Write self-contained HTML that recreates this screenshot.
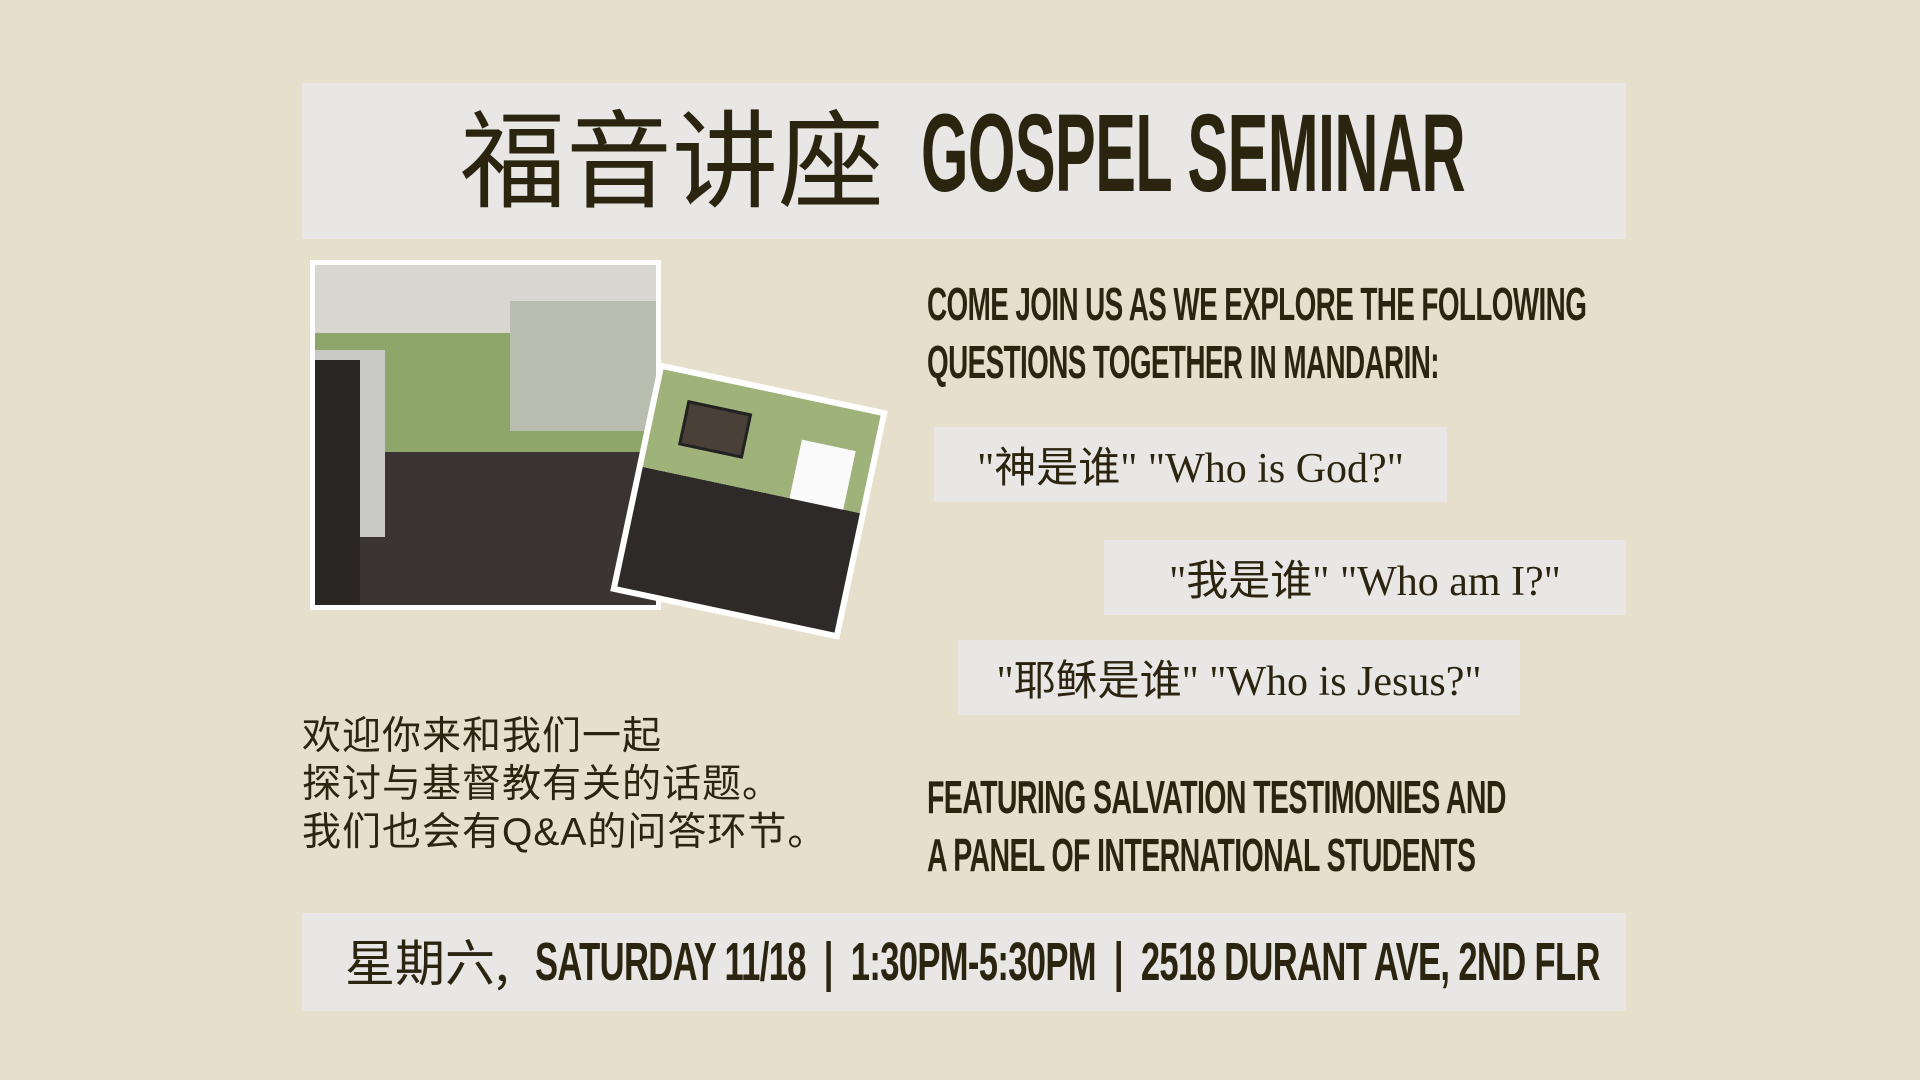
<!DOCTYPE html>
<html><head><meta charset="utf-8"><style>
body{margin:0;width:1920px;height:1080px;background:#e6dfcc;position:relative;overflow:hidden;font-family:"Liberation Sans","Noto Sans CJK SC",sans-serif;color:#2b2510}
.bar{position:absolute;background:#e8e7e5}
.cond{position:absolute;font-weight:bold;transform-origin:0 0;white-space:nowrap;letter-spacing:-1px}
.q{position:absolute;background:#e8e7e5;font-family:"Liberation Serif","Noto Sans CJK SC",serif;font-size:42px;display:flex;align-items:center;justify-content:center;color:#2b2510}
.cn{position:absolute;left:302px;font-size:39px;white-space:nowrap;letter-spacing:1px}
</style></head><body>
<div class="bar" style="left:302px;top:83px;width:1324px;height:156px"></div>
<div style="position:absolute;left:460px;top:88px;font-size:106px;font-family:'Noto Sans CJK SC',sans-serif;line-height:130px">福音讲座</div>
<div class="cond" style="left:921px;top:94px;font-size:110px;line-height:120px;transform:scaleX(0.555)">GOSPEL SEMINAR</div>

<div style="position:absolute;left:310px;top:260px;width:351px;height:350px;background:#fff">
<div style="position:absolute;left:5px;top:5px;width:341px;height:340px;background:linear-gradient(180deg,#d8d6d0 0 20%,#8fa66a 20% 55%,#3a3532 55% 100%)">
<div style="position:absolute;left:0;top:25%;width:70px;height:55%;background:#c9c9c8"></div>
<div style="position:absolute;left:195px;top:36px;width:146px;height:130px;background:#b8bdb0"></div>
<div style="position:absolute;left:0;top:95px;width:45px;height:245px;background:#2a2624"></div>
</div></div>
<div style="position:absolute;left:632px;top:384px;width:234px;height:234px;background:#fff;transform:rotate(12deg)">
<div style="position:absolute;left:6px;top:6px;width:222px;height:222px;background:linear-gradient(180deg,#9fb27a 0 45%,#2e2a2a 45% 100%)">
<div style="position:absolute;left:150px;top:40px;width:55px;height:60px;background:#fafafa"></div>
<div style="position:absolute;left:30px;top:25px;width:60px;height:40px;background:#4a4038;border:3px solid #222"></div>
</div></div>

<div class="cond" style="left:927px;top:275px;font-size:46px;line-height:58px;transform:scaleX(0.606)">COME JOIN US AS WE EXPLORE THE FOLLOWING<br>QUESTIONS TOGETHER IN MANDARIN:</div>

<div class="q" style="left:934px;top:427px;width:513px;height:75px">"神是谁" "Who is God?"</div>
<div class="q" style="left:1104px;top:540px;width:522px;height:75px">"我是谁" "Who am I?"</div>
<div class="q" style="left:958px;top:640px;width:562px;height:75px">"耶稣是谁" "Who is Jesus?"</div>

<div class="cn" style="top:705px">欢迎你来和我们一起</div>
<div class="cn" style="top:753px">探讨与基督教有关的话题。</div>
<div class="cn" style="top:801px">我们也会有Q&amp;A的问答环节。</div>

<div class="cond" style="left:927px;top:768px;font-size:46px;line-height:58px;transform:scaleX(0.62)">FEATURING SALVATION TESTIMONIES AND<br>A PANEL OF INTERNATIONAL STUDENTS</div>

<div class="bar" style="left:302px;top:913px;width:1324px;height:98px"></div>
<div style="position:absolute;left:345px;top:930px;font-size:50px;font-family:'Noto Sans CJK SC',sans-serif;line-height:60px">星期六,</div>
<div class="cond" style="left:535px;top:932px;font-size:54px;line-height:60px;transform:scaleX(0.64)">SATURDAY 11/18 &nbsp;|&nbsp; 1:30PM-5:30PM &nbsp;|&nbsp; 2518 DURANT AVE, 2ND FLR</div>
</body></html>
